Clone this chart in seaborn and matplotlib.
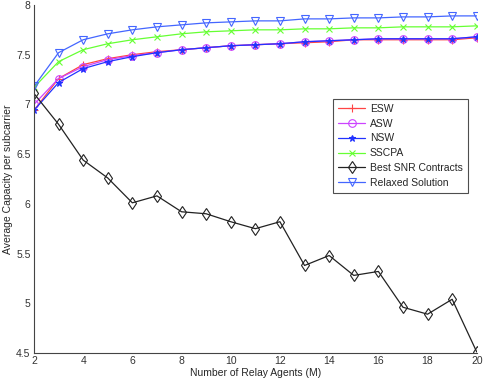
import matplotlib
matplotlib.use("Agg")
import matplotlib.pyplot as plt
import seaborn as sns
import pandas as pd

x = list(range(2, 21))
esw = [6.94, 7.26, 7.40, 7.46, 7.50, 7.53, 7.55, 7.57, 7.59, 7.60, 7.61, 7.62, 7.63, 7.65, 7.65, 7.65, 7.65, 7.65, 7.67]
asw = [7.00, 7.26, 7.38, 7.45, 7.49, 7.52, 7.55, 7.57, 7.59, 7.60, 7.61, 7.63, 7.64, 7.65, 7.66, 7.66, 7.66, 7.66, 7.68]
nsw = [6.94, 7.22, 7.36, 7.43, 7.48, 7.52, 7.55, 7.57, 7.59, 7.60, 7.61, 7.63, 7.64, 7.65, 7.66, 7.66, 7.66, 7.66, 7.68]
sscpa = [7.17, 7.43, 7.55, 7.61, 7.65, 7.68, 7.71, 7.73, 7.74, 7.75, 7.75, 7.76, 7.76, 7.77, 7.77, 7.78, 7.78, 7.78, 7.79]
best_snr = [7.11, 6.80, 6.44, 6.26, 6.01, 6.08, 5.92, 5.90, 5.82, 5.75, 5.82, 5.38, 5.48, 5.28, 5.32, 4.96, 4.89, 5.04, 4.51]
relaxed = [7.18, 7.52, 7.65, 7.71, 7.75, 7.78, 7.80, 7.82, 7.83, 7.84, 7.84, 7.86, 7.86, 7.87, 7.87, 7.88, 7.88, 7.89, 7.89]

series = [
    ("ESW", esw, "#ff4444", "+", 1.0, 6),
    ("ASW", asw, "#cc44ff", "o", 0.0, 5.5),
    ("NSW", nsw, "#2233ff", "*", 1.0, 5),
    ("SSCPA", sscpa, "#66ff33", "x", 1.0, 4.5),
    ("Best SNR Contracts", best_snr, "#222222", "d", 0.0, 6.5),
    ("Relaxed Solution", relaxed, "#4466ff", "v", 0.0, 6),
]

sns.set_style("white")
plt.rcParams['font.family'] = ['Liberation Sans', 'DejaVu Sans']

fig = plt.figure(figsize=(4.85, 3.82), dpi=100)
ax = fig.add_axes([0.070, 0.076, 0.913, 0.911])

for name, vals, col, mk, filled, ms in series:
    df = pd.DataFrame({"x": x, "y": vals})
    kw = dict(marker=mk, markersize=ms,
              markeredgecolor=col, markeredgewidth=0.8, linewidth=0.9)
    kw["markerfacecolor"] = col if filled else "none"
    sns.lineplot(data=df, x="x", y="y", ax=ax, color=col, label=name, **kw)

ax.set_xlim(2, 20)
ax.set_ylim(4.5, 8)
ax.set_xticks(range(2, 21, 2))
ax.set_yticks([4.5, 5, 5.5, 6, 6.5, 7, 7.5, 8])
ax.set_yticklabels(["4.5", "5", "5.5", "6", "6.5", "7", "7.5", "8"])
ax.set_xlabel("Number of Relay Agents (M)", fontsize=7.5, labelpad=1)
ax.set_ylabel("Average Capacity per subcarrier", fontsize=7.5, labelpad=2)
ax.tick_params(direction="in", length=3, width=0.6, labelsize=7.5, pad=2.5, colors="#333333")
for s in ["top", "right"]:
    ax.spines[s].set_visible(False)
for s in ["left", "bottom"]:
    ax.spines[s].set_color("#444444")
    ax.spines[s].set_linewidth(0.8)

leg = ax.legend(loc="upper left", bbox_to_anchor=(0.664, 0.745), fontsize=7.5,
                frameon=True, fancybox=False, borderpad=0.5, labelspacing=0.45,
                handlelength=2.6, handletextpad=0.4)
leg.get_frame().set_edgecolor("#222222")
leg.get_frame().set_linewidth(0.8)

fig.savefig("out.png", dpi=100)
